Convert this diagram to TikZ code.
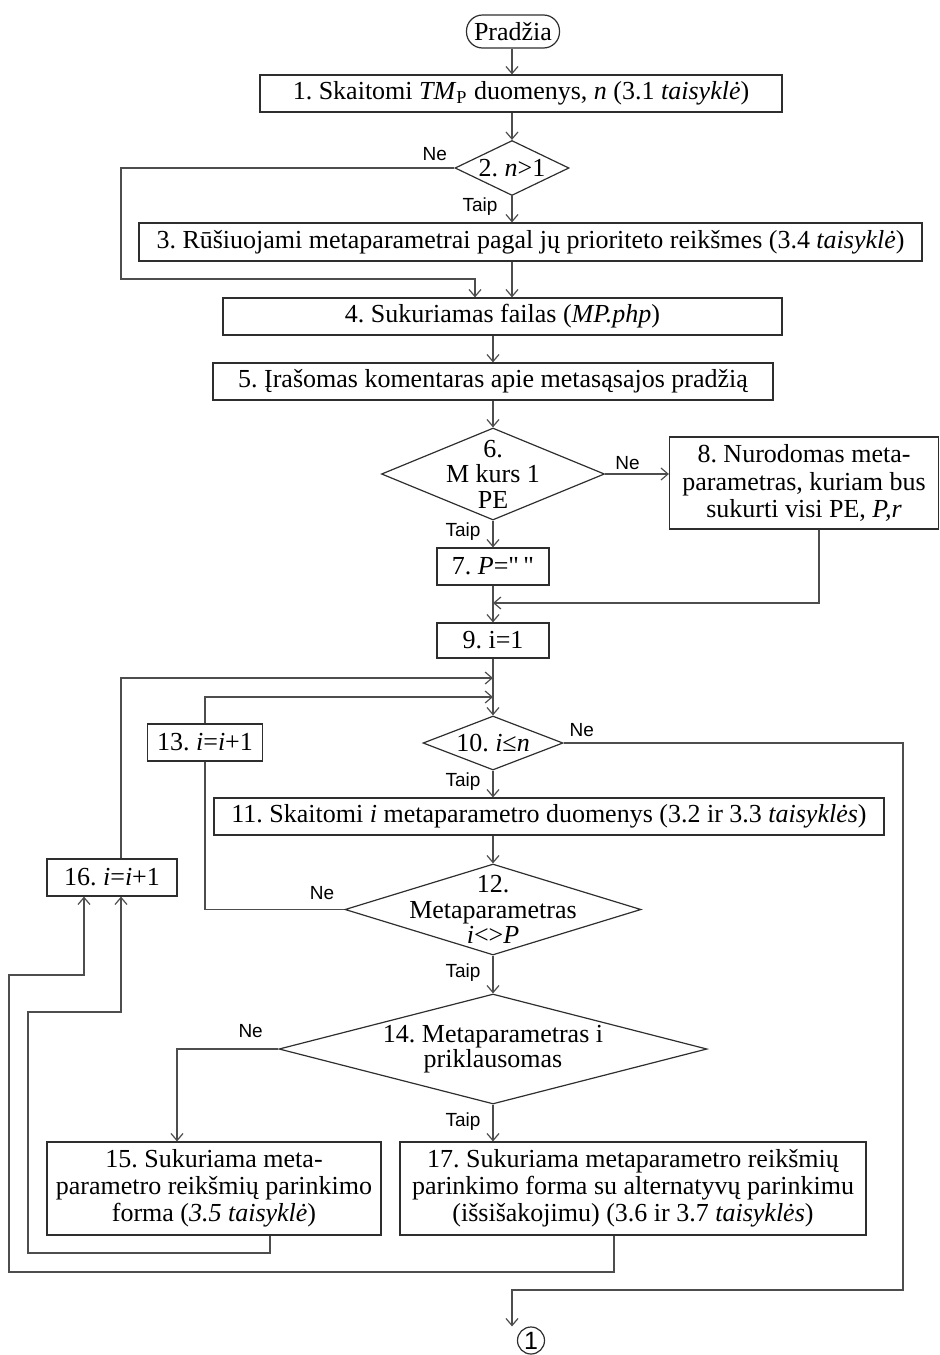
\documentclass[tikz,border=0pt]{standalone}
\usepackage{fontspec}
\setmainfont{Liberation Serif}
\newfontfamily\labfont{Liberation Sans}
\frenchspacing
\usetikzlibrary{arrows.meta,positioning,calc,shapes.geometric}
\definecolor{lline}{HTML}{4D4D4D}
\definecolor{lbord}{HTML}{2E2E2E}
\tikzset{
  box/.style={draw=lbord,line width=0.6pt,align=center,font=\fontsize{13}{13.6}\selectfont,inner sep=0pt},
  term/.style={box,rounded corners=8pt},
  dia/.style={draw=lbord,line width=0.6pt,diamond,inner sep=0pt},
  dtxt/.style={align=center,font=\fontsize{13}{12.8}\selectfont,inner sep=0pt},
  arr/.style={-{Straight Barb[length=3.5pt,width=6pt]},line width=0.6pt,draw=lline},
  ln/.style={line width=0.6pt,draw=lline},
  lab/.style={font=\labfont\fontsize{9.5}{10}\selectfont,inner sep=2pt},
}
\begin{document}
\begin{tikzpicture}[x=0.5pt,y=-0.5pt]
  \useasboundingbox (0,0) rectangle (940,1355);
  % blokai
  \node[term,minimum width=46.5pt,minimum height=16.5pt] (start) at (513,31.5) {Pradžia};
  \node[box,minimum width=261pt,minimum height=18.5pt] (b1) at (521,93.5) {1. Skaitomi \textit{TM}\textsubscript{P} duomenys, \textit{n} (3.1 \textit{taisyklė})};
  \node[dia,minimum width=57pt,minimum height=27.5pt,label={[dtxt]center:{2. \textit{n}>1}}] (d2) at (512,168) {};
  \node[box,minimum width=391.5pt,minimum height=19pt] (b3) at (530.5,242) {3. Rūšiuojami metaparametrai pagal jų prioriteto reikšmes (3.4 \textit{taisyklė})};
  \node[box,minimum width=279.5pt,minimum height=18.5pt] (b4) at (502.5,316.5) {4. Sukuriamas failas (\textit{MP.php})};
  \node[box,minimum width=280pt,minimum height=18.5pt] (b5) at (493,381.5) {5. Įrašomas komentaras apie metasąsajos pradžią};
  \node[dia,minimum width=111.5pt,minimum height=46pt,label={[dtxt]center:{6.\\M kurs 1\\PE}}] (d6) at (493,474) {};
  \node[box,minimum width=56pt,minimum height=18.5pt] (b7) at (493,566.5) {7. \textit{P}=\textquotedbl\,\textquotedbl};
  \node[box,minimum width=134.5pt,minimum height=46pt] (b8) at (804,483) {8. Nurodomas meta-\\parametras, kuriam bus\\sukurti visi PE, \textit{P,r}};
  \node[box,minimum width=56pt,minimum height=17.5pt] (b9) at (493,640.5) {9. i=1};
  \node[dia,minimum width=70pt,minimum height=27pt,label={[dtxt]center:{10. \textit{i}≤\textit{n}}}] (d10) at (493,743) {};
  \node[box,minimum width=57.5pt,minimum height=18.5pt] (b13) at (205,742.5) {13. \textit{i}=\textit{i}+1};
  \node[box,minimum width=335pt,minimum height=18.5pt] (b11) at (549,816.5) {11. Skaitomi \textit{i} metaparametro duomenys (3.2 ir 3.3 \textit{taisyklės})};
  \node[dia,minimum width=148pt,minimum height=45.5pt,label={[dtxt]center:{12.\\Metaparametras\\\textit{i}<>\textit{P}}}] (d12) at (493,909.5) {};
  \node[box,minimum width=65pt,minimum height=18.5pt] (b16) at (112,877.5) {16. \textit{i}=\textit{i}+1};
  \node[dia,minimum width=214pt,minimum height=55pt,label={[dtxt]center:{14. Metaparametras i\\priklausomas}}] (d14) at (493,1049) {};
  \node[box,minimum width=167pt,minimum height=46.5pt] (b15) at (214,1188.5) {15. Sukuriama meta-\\parametro reikšmių parinkimo\\forma (\textit{3.5 taisyklė})};
  \node[box,minimum width=233pt,minimum height=46.5pt] (b17) at (633,1188.5) {17. Sukuriama metaparametro reikšmių\\parinkimo forma su alternatyvų parinkimu\\(išsišakojimu) (3.6 ir 3.7 \textit{taisyklės})};
  \node[draw=lbord,line width=0.6pt,circle,minimum size=13.5pt,inner sep=0pt,font=\labfont\fontsize{12.5}{12.5}\selectfont] (c1) at (531,1340.5) {1};
  \coordinate (j9) at (493,603);
  \coordinate (j16) at (493,678);
  \coordinate (j13) at (493,697);
  \coordinate (c1in) at ($(c1.north)+(-19,0)$);
  % jungtys
  \draw[arr] (start.south -| d2.north) -- (d2.north |- b1.north);
  \draw[arr] (d2.north |- b1.south) -- (d2.north);
  \draw[arr] (d2.south) -- node[lab,left=5pt,pos=0.4]{Taip} (d2.south |- b3.north);
  \draw[arr] (d2.west) node[lab,above left=2pt]{Ne} -| (121,279) -| ($(b4.north)+(-27.5,0)$);
  \draw[arr] (d2.south |- b3.south) -- (d2.south |- b4.north);
  \draw[arr] (b5.north |- b4.south) -- (b5.north);
  \draw[arr] (b5.south) -- (d6.north);
  \draw[arr] (d6.east) -- node[lab,above,pos=0.35]{Ne} (d6.east -| b8.west);
  \draw[arr] (d6.south) -- node[lab,left=4pt,pos=0.4]{Taip} (b7.north);
  \draw[arr] (b7.south) -- (b9.north);
  \draw[arr] ($(b8.south)+(15,0)$) |- (j9);
  \draw[arr] (b9.south) -- (d10.north);
  % ciklas
  \draw[arr] (d10.east) node[lab,above right=1pt]{Ne} -| (903,1290) -| (c1in);
  \draw[arr] (d10.south) -- node[lab,left=4pt,pos=0.4]{Taip} (d10.south |- b11.north);
  \draw[arr] (d12.north |- b11.south) -- (d12.north);
  \draw[ln] (d12.west) node[lab,above left=4pt]{Ne} -| (b13.south);
  \draw[arr] (b13.north) |- (j13);
  \draw[arr] ($(b16.north)+(9,0)$) |- (j16);
  \draw[arr] (d12.south) -- node[lab,left=4pt,pos=0.45]{Taip} (d14.north);
  \draw[arr] (d14.west) node[lab,above left={3.5pt and 5.5pt}]{Ne} -| ($(b15.north)+(-37,0)$);
  \draw[arr] (d14.south) -- node[lab,left=4pt,pos=0.45]{Taip} (d14.south |- b17.north);
  \draw[arr] ($(b15.south)+(56,0)$) |- (28,1253) |- (121,1012) -- ($(b16.south)+(9,0)$);
  \draw[arr] ($(b17.south)+(-19,0)$) |- (9,1272) |- (84,975) -- ($(b16.south)+(-28,0)$);
\end{tikzpicture}
\end{document}
